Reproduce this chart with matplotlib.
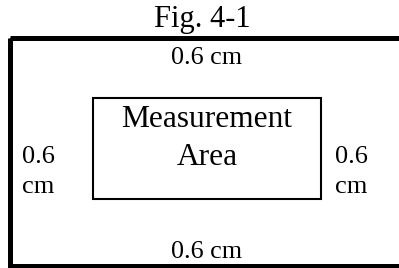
import matplotlib
matplotlib.use("Agg")
import matplotlib.pyplot as plt
from matplotlib.patches import Rectangle

plt.rcParams['font.family'] = ['Liberation Serif', 'DejaVu Serif']

title = "Fig. 4-1"
margin_label = "0.6 cm"
side_lines = ["0.6", "cm"]
area_lines = ["Measurement", "Area"]

W, H = 399, 268
fig = plt.figure(figsize=(W / 100, H / 100), dpi=100)
ax = fig.add_axes([0, 0, 1, 1])
ax.set_xlim(0, W)
ax.set_ylim(H, 0)
ax.axis('off')

# outer frame (right edge runs off the image)
ax.add_patch(Rectangle((9.5, 37.5), 395, 228, fill=False, edgecolor='black',
                       linewidth=3.6, joinstyle='miter'))
# inner measurement area
ax.add_patch(Rectangle((92.5, 97.5), 228.5, 101, fill=False, edgecolor='black',
                       linewidth=1.5, joinstyle='miter'))

ax.text(202, 27, title, ha='center', va='baseline', fontsize=22)
ax.text(206.5, 64, margin_label, ha='center', va='baseline', fontsize=18.8)
ax.text(206.5, 258, margin_label, ha='center', va='baseline', fontsize=18.8)

for x0 in (22, 335):
    for line, yb in zip(side_lines, (163, 193)):
        ax.text(x0, yb, line, ha='left', va='baseline', fontsize=19)

for line, yb in zip(area_lines, (127, 165)):
    ax.text(207, yb, line, ha='center', va='baseline', fontsize=22.6)

fig.savefig("out.png", dpi=100)
